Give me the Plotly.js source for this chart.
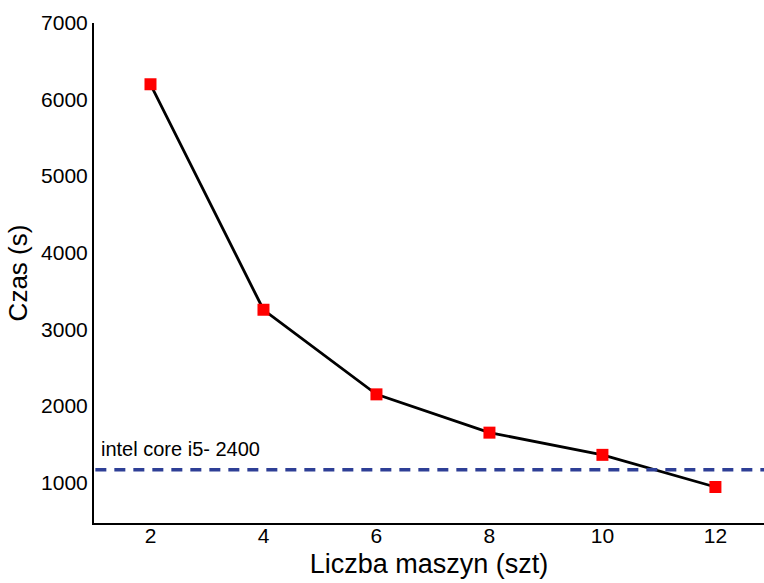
<!DOCTYPE html>
<html><head><meta charset="utf-8">
<script src="https://cdn.plot.ly/plotly-3.0.1.min.js"></script>
<style>html,body{margin:0;padding:0;background:#fff}#chart{width:764px;height:583px}</style>
</head><body><div id="chart"></div>
<script>
const machines = [2, 4, 6, 8, 10, 12];
const timeSec = [6200, 3255, 2150, 1650, 1360, 940];
const refValue = 1165;
const refLabel = 'intel core i5- 2400';
const xTicks = [2, 4, 6, 8, 10, 12];
const yTicks = [1000, 2000, 3000, 4000, 5000, 6000, 7000];

const fontFam = 'Liberation Sans, Arial, sans-serif';
const trace = {
  x: machines, y: timeSec, type: 'scatter', mode: 'lines+markers',
  line: {color: '#000', width: 2.8},
  marker: {symbol: 'square', size: 12, color: '#ff0000'},
  showlegend: false, hoverinfo: 'skip'
};
const layout = {
  width: 764, height: 583,
  margin: {l: 94, r: 0, t: 23, b: 60},
  paper_bgcolor: '#fff', plot_bgcolor: '#fff',
  font: {family: fontFam, color: '#000'},
  xaxis: {
    range: [1, 12.86], tickvals: xTicks, ticktext: xTicks.map(String),
    showgrid: false, zeroline: false, showline: true, linecolor: '#000', linewidth: 2,
    ticks: '', ticklen: 0, tickfont: {size: 21}, ticklabelstandoff: -7,
    title: {text: 'Liczba maszyn (szt)', font: {size: 27}, standoff: 8}
  },
  yaxis: {
    range: [470, 7000], tickvals: yTicks, ticktext: yTicks.map(String),
    showgrid: false, zeroline: false, showline: true, linecolor: '#000', linewidth: 2,
    ticks: '', ticklen: 0, tickfont: {size: 21}, ticklabelstandoff: 0,
    title: {text: 'Czas (s)', font: {size: 26}, standoff: 6}
  },
  shapes: [{
    type: 'line', xref: 'paper', x0: 0.002, x1: 1, yref: 'y', y0: refValue, y1: refValue,
    line: {color: '#2e3f96', width: 3.5, dash: '11px,8px'}
  }],
  annotations: [{
    text: refLabel, xref: 'paper', x: 0.008, xanchor: 'left', yref: 'y', y: refValue + 100,
    yanchor: 'bottom', showarrow: false, font: {size: 20, color: '#000'}
  }]
};
Plotly.newPlot('chart', [trace], layout, {staticPlot: true, displayModeBar: false});
</script></body></html>
